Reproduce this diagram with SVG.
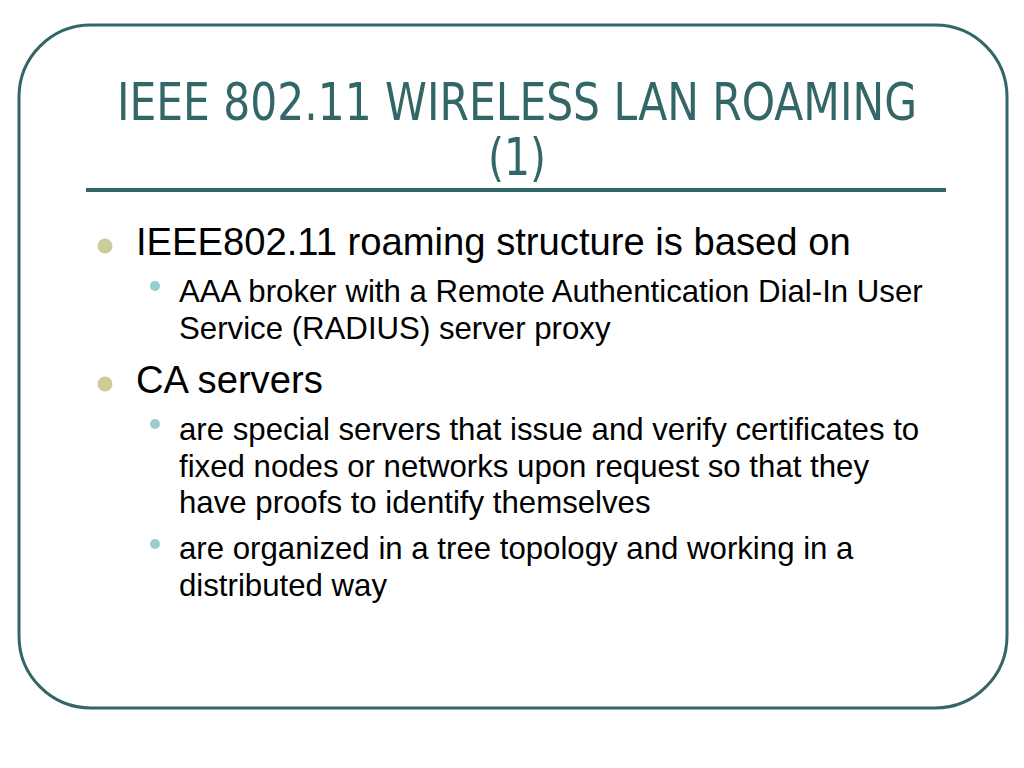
<svg xmlns="http://www.w3.org/2000/svg" width="1024" height="768" viewBox="0 0 1024 768">
<style>
.title{font-family:"DejaVu Sans Condensed","Liberation Sans Narrow","Liberation Sans",sans-serif;font-stretch:condensed;font-size:51px;fill:#336666}
.l1{font-family:"Liberation Sans",Arial,sans-serif;font-size:38.2px;fill:#000}
.l2{font-family:"Liberation Sans",Arial,sans-serif;font-size:31.2px;fill:#000}
.b1{fill:#cccc99}
.b2{fill:#99cccc}
</style>
<rect width="1024" height="768" fill="#ffffff"/>
<rect x="19" y="25" width="988" height="683" rx="72" ry="72" fill="none" stroke="#336666" stroke-width="3"/>
<g id="title">
<text class="title" x="517" y="120" text-anchor="middle" textLength="800" lengthAdjust="spacingAndGlyphs">IEEE 802.11 WIRELESS LAN ROAMING</text>
<text class="title" x="517" y="175" text-anchor="middle" textLength="58" lengthAdjust="spacingAndGlyphs">(1)</text>
<rect x="86" y="188" width="860" height="4" fill="#336666"/>
</g>
<g id="body">
<circle class="b1" cx="105" cy="246" r="7.5"/>
<text class="l1" x="136" y="255">IEEE802.11 roaming structure is based on</text>
<circle class="b2" cx="155" cy="286" r="5"/>
<text class="l2" x="179" y="302">AAA broker with a Remote Authentication Dial-In User</text>
<text class="l2" x="179" y="339">Service (RADIUS) server proxy</text>
<circle class="b1" cx="105" cy="384" r="7.5"/>
<text class="l1" x="136" y="393">CA servers</text>
<circle class="b2" cx="155" cy="424" r="5"/>
<text class="l2" x="179" y="440">are special servers that issue and verify certificates to</text>
<text class="l2" x="179" y="477">fixed nodes or networks upon request so that they</text>
<text class="l2" x="179" y="513">have proofs to identify themselves</text>
<circle class="b2" cx="155" cy="544" r="5"/>
<text class="l2" x="179" y="559">are organized in a tree topology and working in a</text>
<text class="l2" x="179" y="596">distributed way</text>
</g>
</svg>
